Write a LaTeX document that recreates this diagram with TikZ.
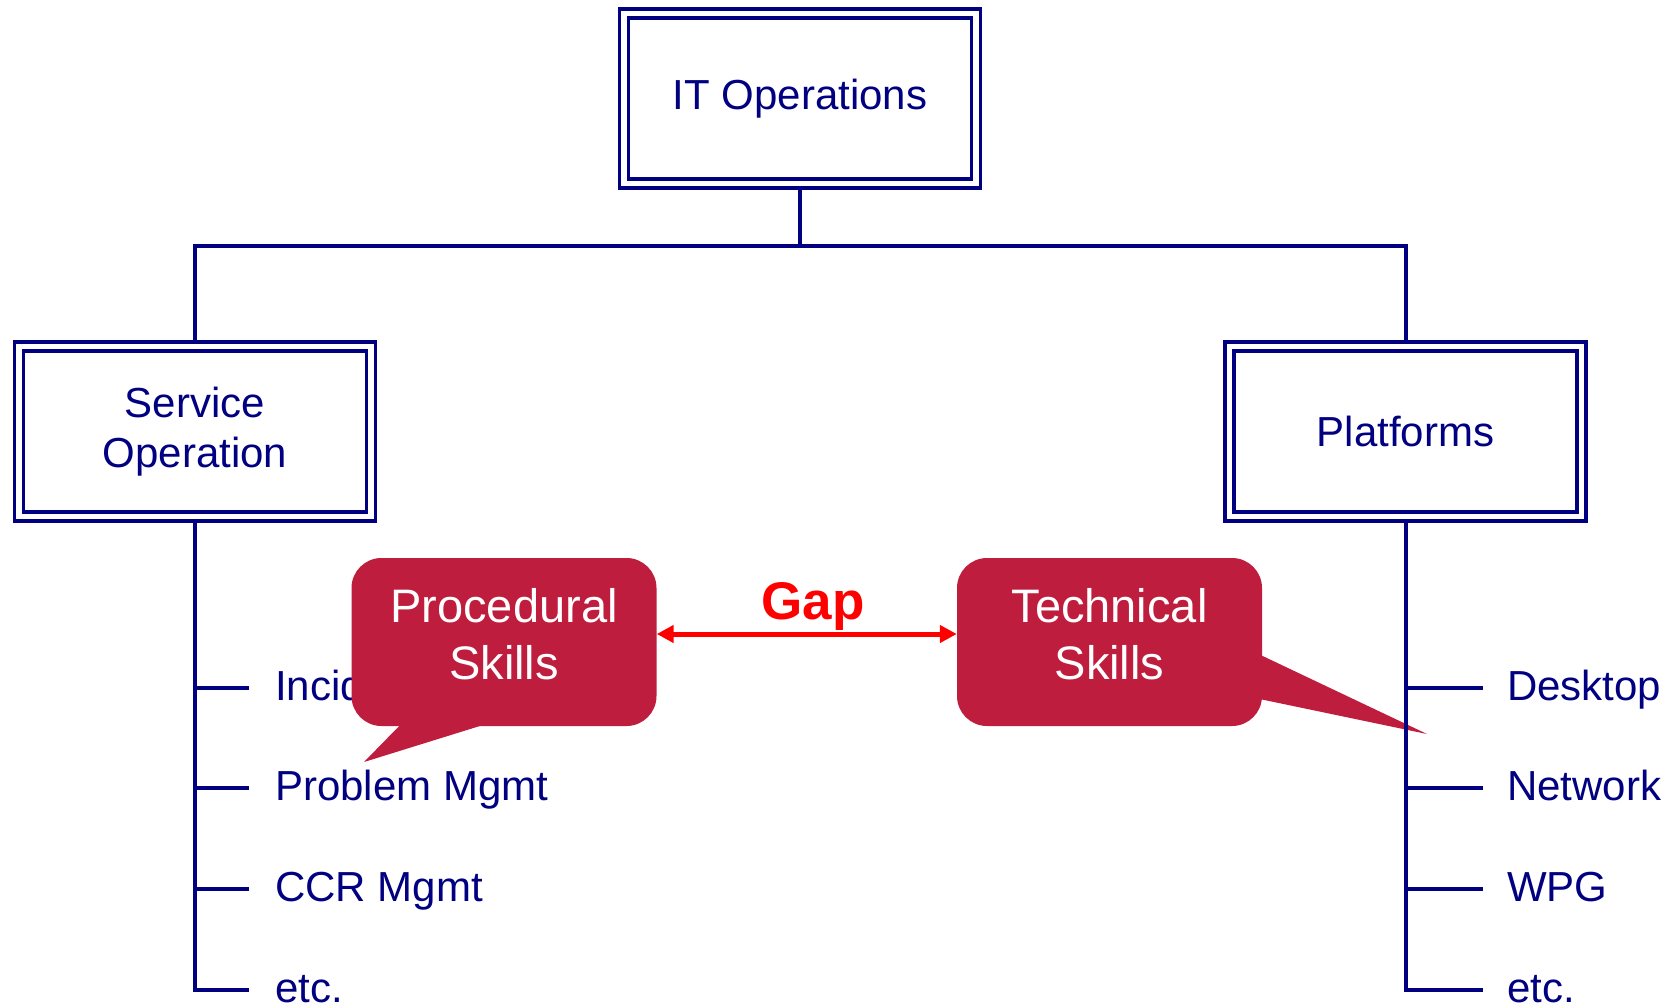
\documentclass[tikz,border=0pt]{standalone}
\usepackage{fontspec}
\setmainfont{Liberation Sans}
\usetikzlibrary{arrows.meta,calc}
\definecolor{navy}{RGB}{0,0,128}
\definecolor{skillred}{RGB}{191,29,61}
\definecolor{gapred}{RGB}{255,0,0}

\begin{document}
\begin{tikzpicture}[x=1pt,y=-1pt,
  orgbox/.style={draw=navy, line width=3.5pt, double=white, double distance=5.5pt,
    minimum width=352pt, minimum height=170pt, inner sep=0pt, outer sep=6.25pt,
    text=navy, align=center, font=\fontsize{42}{50}\selectfont},
  conn/.style={draw=navy, line width=4pt},
  listitem/.style={anchor=base west, text=navy, inner sep=0pt,
    font=\fontsize{42}{50}\selectfont},
  skillbox/.style={fill=skillred, rounded corners=30pt, minimum width=305pt,
    minimum height=168pt, inner sep=0pt},
  skilltext/.style={text=white, align=center, inner sep=0pt,
    font=\fontsize{47}{57}\selectfont},
  gaparrow/.style={draw=gapred, line width=5pt,
    {Triangle[length=17pt,width=17pt]}-{Triangle[length=17pt,width=17pt]}},
]
\useasboundingbox (0,0) rectangle (1680,1007);

% organisation boxes
\node[orgbox] (itops) at (800,98.5) {IT Operations};
\node[orgbox] (svc) at (195,431.5) {Service\\Operation};
\node[orgbox] (plat) at (1405.5,431.5) {Platforms};

% list entries
\node[listitem] (inc)  at (275,700)  {Incident Mgmt};
\node[listitem] (prob) at (275,800)  {Problem Mgmt};
\node[listitem] (ccr)  at (275,901)  {CCR Mgmt};
\node[listitem] (etcl) at (275,1002) {etc.};
\node[listitem] (desk) at (1507,700)  {Desktop};
\node[listitem] (net)  at (1507,800)  {Network};
\node[listitem] (wpg)  at (1507,901)  {WPG};
\node[listitem] (etcr) at (1507,1002) {etc.};

% skill callouts with their pointers
\node[skillbox] (proc) at (504,642) {};
\fill[skillred] (409,716) -- (364,762) -- (512,716) -- cycle;
\node[skilltext] at ([yshift=7.5pt]proc.center) {Procedural\\Skills};

\node[skillbox] (tech) at (1109.5,642) {};
\fill[skillred] (1250,650) -- (1427,734) -- (1250,697) -- cycle;
\node[skilltext] at ([yshift=7.5pt]tech.center) {Technical\\Skills};

% tree connectors
\coordinate (bar) at (800,246);
\draw[conn] (itops.south) -- (bar);
\draw[conn] (svc.north) |- (bar) -| (plat.north);

\coordinate (lbot) at (195,990);
\coordinate (rbot) at (1405.5,990);
\draw[conn] (svc.south) -- (lbot) -- ++(54,0);
\draw[conn] (plat.south) -- (rbot) -- ++(77,0);
\foreach \y in {688,788,889}{
  \draw[conn] (195,\y) -- ++(54,0);
  \draw[conn] (1405.5,\y) -- ++(77,0);
}

% gap between the two skill sets
\draw[gaparrow] ([yshift=8pt]proc.east) -- ([yshift=8pt]tech.west);
\node[anchor=base, inner sep=0pt, text=gapred,
  font=\bfseries\fontsize{53}{60}\selectfont] (gap) at (813,619) {Gap};
\end{tikzpicture}
\end{document}
